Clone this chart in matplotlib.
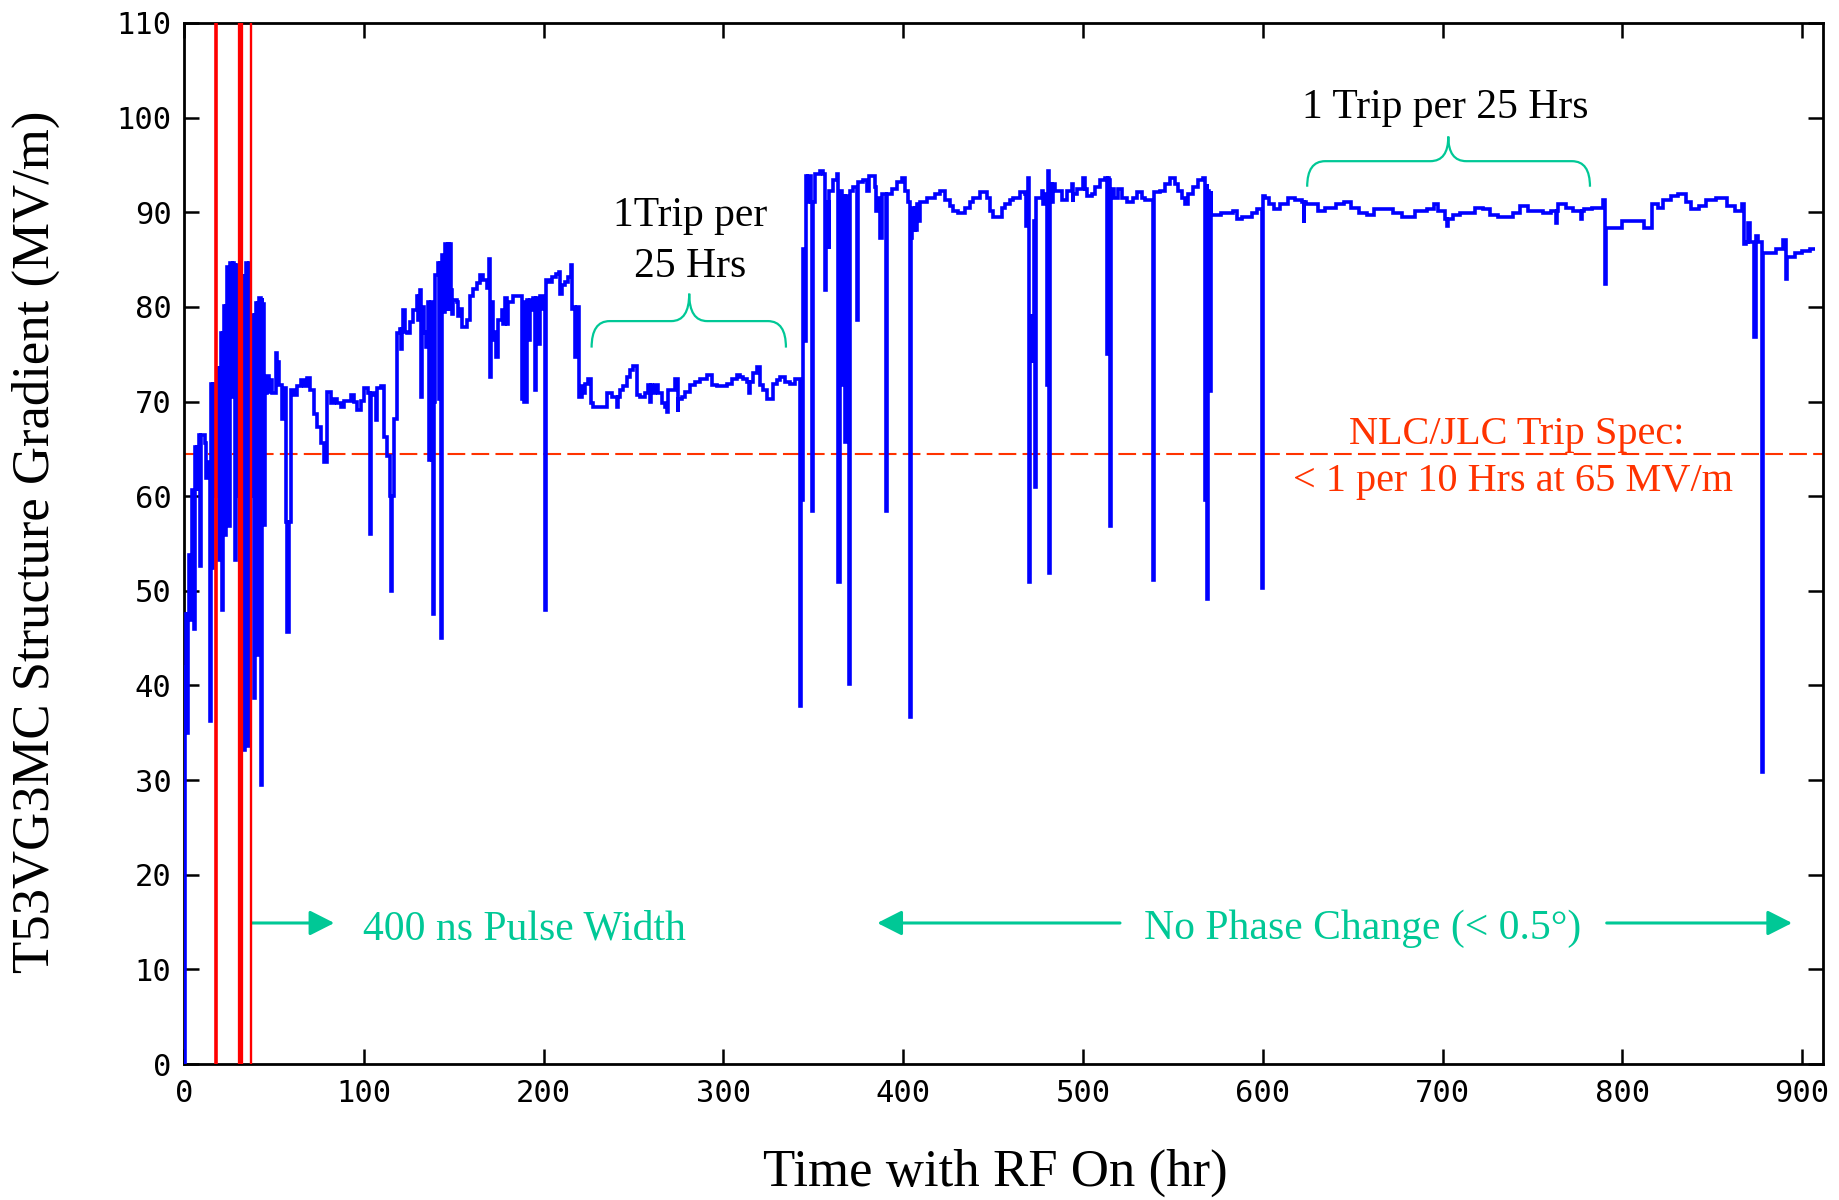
import matplotlib
matplotlib.use("Agg")
import matplotlib.pyplot as plt
from matplotlib.path import Path
from matplotlib.patches import PathPatch

# ── Data: (hours with RF on, gradient MV/m) ──
early = [
    (0.0, 0.0), (0.5, 42.0), (0.9, 47.6), (1.5, 35.0), (2.2, 47.6), (2.9, 53.8), (3.6, 46.9),
    (4.4, 53.8), (4.7, 60.7), (5.6, 46.0), (6.2, 65.2), (7.0, 60.5), (7.5, 65.2), (8.3, 66.5),
    (8.8, 52.6), (9.4, 66.5), (11.5, 65.6), (12.3, 61.9), (13.3, 63.6), (14.3, 36.2), (14.8, 63.6),
    (15.2, 71.9), (15.8, 52.4), (16.4, 71.9), (17.2, 60.0), (18.5, 73.5), (19.2, 53.3), (19.8, 73.5),
    (20.4, 77.2), (21.1, 48.0), (21.7, 77.2), (22.2, 80.1), (22.9, 55.9), (23.5, 80.1), (24.1, 84.2),
    (24.8, 56.8), (25.4, 84.2), (25.6, 84.6), (26.5, 70.5), (27.1, 84.6), (27.8, 84.4), (28.4, 53.3),
    (29.2, 84.4), (29.7, 60.0), (32.4, 83.3), (33.0, 33.2), (33.8, 83.3), (34.4, 84.6), (35.2, 33.6),
    (36.0, 84.6), (36.5, 60.0), (38.3, 79.1), (38.9, 38.7), (39.5, 79.1), (40.0, 80.4), (40.8, 43.2),
    (41.4, 80.4), (41.8, 80.9), (42.6, 29.5), (43.2, 80.9), (43.6, 80.3), (44.3, 57.0), (45.0, 70.9),
    (46.3, 72.7), (47.3, 71.0), (48.3, 72.3), (49.0, 70.9), (51.0, 75.1), (52.0, 74.2), (52.8, 71.7),
    (54.7, 68.2), (55.7, 71.4), (56.5, 57.3), (57.5, 45.7), (58.3, 57.3), (59.3, 71.2), (61.2, 70.7),
    (63.0, 71.6), (65.0, 72.3), (66.7, 71.6), (68.6, 72.5), (70.1, 71.2), (72.3, 68.7), (74.2, 67.3),
    (76.0, 65.6), (77.9, 63.6), (79.7, 71.0), (81.6, 69.8), (83.4, 70.3), (85.3, 69.8), (87.1, 69.4),
    (89.0, 70.1), (92.7, 70.7), (94.5, 70.0), (96.4, 69.1), (98.3, 70.1), (100.1, 71.4), (102.5, 70.9),
    (103.2, 56.0), (103.9, 70.9), (105.7, 70.7), (106.8, 68.0), (107.5, 71.4), (109.4, 71.6),
    (111.3, 66.3), (113.1, 64.2), (114.5, 60.0), (115.0, 50.0), (115.7, 60.0), (116.8, 68.2),
    (118.7, 77.2),
]

middle = [
    (120.1, 77.7), (120.8, 75.6), (121.2, 77.7), (122.0, 79.7), (122.8, 77.4), (123.8, 77.2),
    (125.7, 78.4), (127.5, 79.7), (129.4, 81.2), (130.1, 78.6), (130.6, 81.2), (131.2, 81.8),
    (131.6, 70.5), (132.1, 80.0), (133.5, 77.2), (134.0, 77.4), (134.8, 75.8), (135.8, 80.5),
    (136.5, 63.8), (137.2, 80.5), (138.2, 63.8), (138.7, 47.5), (139.3, 70.0), (139.6, 83.4),
    (141.4, 84.6), (141.9, 70.3), (142.4, 84.6), (142.8, 45.0), (143.5, 85.5), (144.5, 79.5),
    (144.9, 85.5), (145.3, 86.7), (146.2, 79.8), (146.8, 86.7), (147.5, 79.8), (148.0, 86.7),
    (148.3, 81.8), (149.0, 79.3), (149.8, 80.7), (151.6, 80.5), (152.4, 79.0), (153.5, 79.8),
    (154.4, 77.9), (157.2, 78.6), (159.0, 81.1), (160.9, 81.9), (162.7, 82.5), (164.6, 83.4),
    (166.4, 82.8), (168.3, 82.0), (169.8, 85.1), (170.3, 72.6), (171.0, 80.5), (171.8, 76.5),
    (172.9, 77.4), (173.5, 74.7), (174.8, 78.6), (176.6, 79.7), (177.5, 78.2), (178.5, 80.9),
    (179.5, 78.2), (180.3, 80.5), (183.2, 81.2), (187.8, 70.3), (188.5, 80.5), (189.2, 70.0),
    (190.6, 80.7), (191.5, 76.5), (192.4, 80.7), (193.5, 79.7), (194.3, 80.9), (195.0, 71.2),
    (195.6, 80.9), (196.1, 80.7), (197.0, 76.1), (198.0, 81.1), (199.8, 79.8), (200.6, 48.0),
    (201.2, 65.4), (201.6, 82.8), (203.0, 82.6), (204.8, 83.2), (206.7, 83.5), (208.5, 83.7),
    (209.3, 81.4), (210.0, 82.3), (211.8, 82.6), (213.7, 83.2), (215.5, 84.4), (216.0, 79.8),
    (216.5, 80.0), (217.5, 74.7), (218.4, 80.0), (219.5, 70.5), (221.2, 71.6), (222.0, 70.9),
    (223.0, 71.9), (224.9, 72.4), (226.5, 69.8), (227.6, 69.4), (235.0, 70.9), (237.9, 70.5),
    (240.7, 69.4), (241.6, 70.5), (242.5, 71.2), (244.4, 71.6), (246.2, 72.6), (248.1, 73.3),
    (249.9, 73.8), (252.2, 70.7), (253.6, 70.5), (256.4, 70.9), (258.3, 71.7), (259.2, 70.0),
    (259.7, 71.7), (260.1, 70.9), (262.0, 71.7), (263.8, 70.9), (265.7, 69.8), (267.5, 69.4),
    (268.5, 68.9), (269.4, 71.2), (273.1, 72.4), (274.5, 68.9), (275.0, 70.3), (276.8, 70.5),
    (278.7, 71.0), (281.5, 71.7), (284.2, 72.1), (287.0, 72.4), (290.7, 72.8), (293.5, 71.7),
    (296.3, 71.6), (301.8, 71.9), (304.6, 72.4), (307.4, 72.8), (309.3, 72.6), (311.1, 72.4),
    (313.0, 72.1), (314.5, 70.9), (315.0, 72.1), (316.7, 73.0), (318.5, 73.7), (320.4, 71.7),
    (322.2, 71.2), (324.1, 70.3), (327.8, 71.9), (329.7, 72.3), (331.5, 72.6), (334.3, 72.1),
    (337.1, 71.9), (339.9, 72.4), (342.5, 37.8), (343.3, 59.6), (344.2, 86.1), (345.4, 76.4),
]

late = [
    (345.9, 93.8), (346.6, 91.1), (347.3, 93.8), (348.6, 91.1), (349.4, 58.4), (350.0, 91.1),
    (351.0, 94.0), (353.8, 94.4), (355.6, 94.0), (356.6, 81.8), (357.2, 91.1), (358.5, 86.1),
    (359.0, 92.3), (361.2, 93.4), (363.0, 94.0), (364.0, 50.9), (364.7, 92.3), (365.8, 71.7),
    (366.5, 91.7), (367.5, 65.7), (368.2, 91.7), (369.6, 40.2), (370.3, 92.3), (372.3, 92.7),
    (374.5, 78.6), (375.0, 93.2), (377.9, 93.4), (379.7, 92.3), (381.2, 93.8), (384.4, 92.7),
    (385.0, 90.1), (386.2, 91.5), (387.0, 87.3), (388.0, 91.9), (390.4, 58.4), (391.0, 91.9),
    (393.6, 92.5), (396.4, 93.2), (399.2, 93.6), (401.0, 92.3), (402.9, 91.1), (404.0, 36.7),
    (404.6, 87.3), (405.0, 90.5), (405.6, 88.1), (406.5, 90.5), (407.2, 88.1), (407.8, 90.9),
    (408.7, 89.1), (409.6, 91.1), (413.0, 91.5), (417.7, 91.9), (420.5, 92.3), (423.3, 91.3),
    (426.1, 90.7), (427.9, 90.1), (430.7, 89.9), (434.4, 90.5), (437.2, 91.1), (439.0, 91.5),
    (442.7, 92.1), (446.4, 91.5), (448.3, 90.1), (450.2, 89.5), (454.8, 90.5), (456.6, 90.9),
    (459.4, 91.3), (461.3, 91.5), (465.0, 92.1), (467.8, 91.9), (468.5, 88.5), (469.6, 93.6),
    (470.2, 50.9), (470.7, 79.0), (471.2, 74.3), (471.7, 79.0), (472.2, 74.3), (473.0, 89.1),
    (473.4, 61.0), (474.0, 91.5), (477.0, 92.3), (477.8, 90.9), (479.0, 91.9), (479.8, 71.7),
    (480.5, 92.0), (480.8, 94.4), (481.3, 51.9), (481.9, 93.0), (482.5, 91.1), (483.5, 93.0),
    (484.5, 92.3), (487.2, 92.3), (488.5, 91.3), (490.9, 92.3), (493.7, 93.0), (494.3, 91.1),
    (494.6, 91.9), (496.5, 92.5), (500.2, 93.6), (501.2, 92.5), (502.1, 91.7), (504.9, 91.9),
    (506.7, 92.7), (509.5, 93.4), (512.3, 93.6), (513.6, 75.0), (514.0, 93.6), (514.5, 93.4),
    (515.0, 56.8), (515.7, 92.5), (517.5, 91.5), (519.7, 92.5), (521.5, 91.5), (524.3, 91.1),
    (528.0, 91.5), (529.9, 92.1), (532.7, 91.5), (534.5, 91.3), (539.1, 51.1), (539.7, 92.1),
    (542.9, 92.3), (545.6, 93.0), (548.4, 93.6), (551.2, 93.0), (553.0, 92.3), (554.9, 91.5),
    (556.7, 90.9), (558.6, 91.9), (561.4, 92.7), (564.2, 93.4), (567.0, 93.6), (568.0, 59.6),
    (568.8, 93.0), (569.0, 49.1), (569.7, 92.3), (570.3, 71.1), (571.0, 92.3), (571.4, 89.7),
    (577.0, 89.9), (583.6, 90.1), (585.5, 89.3), (588.3, 89.5), (593.8, 89.9), (596.6, 90.3),
    (599.4, 50.3), (600.0, 91.7), (601.3, 91.5), (603.3, 90.9), (606.5, 90.3), (609.6, 90.9),
    (613.8, 91.5), (618.0, 91.3), (622.1, 91.1), (622.7, 88.9), (623.2, 91.1), (624.2, 90.9),
    (630.5, 90.1), (634.7, 90.5), (641.0, 90.9), (645.1, 91.1), (649.3, 90.5), (653.5, 89.9),
    (657.7, 89.7), (661.9, 90.3), (672.3, 89.9), (677.5, 89.5), (684.8, 90.1), (691.1, 90.3),
    (695.3, 90.9), (697.4, 90.1), (701.5, 89.3), (702.5, 88.5), (703.0, 89.3), (705.7, 89.7),
    (709.9, 89.9), (718.3, 90.5), (722.4, 90.3), (726.6, 89.7), (730.8, 89.5), (739.2, 89.9),
    (743.3, 90.7), (747.5, 90.1), (755.9, 89.9), (760.1, 90.1), (763.2, 88.9), (763.6, 90.1),
    (764.2, 90.9), (768.4, 90.5), (772.6, 90.1), (777.0, 89.3), (777.4, 90.1), (778.9, 90.3),
    (783.0, 90.5), (789.3, 91.3), (790.5, 82.4), (791.0, 88.3), (799.8, 89.1), (812.3, 88.3),
    (816.5, 90.9), (819.6, 90.5), (822.7, 91.3), (826.9, 91.7), (831.1, 91.9), (835.3, 91.1),
    (838.4, 90.3), (842.6, 90.7), (846.8, 91.3), (852.0, 91.5), (858.3, 90.7), (862.5, 90.1),
    (866.6, 90.9), (867.5, 86.7), (868.7, 86.9), (870.0, 88.9), (870.8, 86.9), (873.5, 76.8),
    (874.1, 87.5), (875.2, 86.9), (877.5, 30.9), (878.2, 85.7), (885.4, 86.1), (889.6, 87.1),
    (890.9, 83.0), (891.3, 85.3), (895.9, 85.7), (900.0, 85.9), (904.2, 86.1), (907.3, 86.1),
]

# retuning / pulse-width change markers (hr) and trip spec level
red_lines = [17.8, 31.1, 37.3]
red_widths = [2.6, 3.8, 1.7]
spec_level = 64.5

BLUE = "#0000ff"
GREEN = "#00c896"
ORANGE = "#ff3300"
SERIF = "Liberation Serif"

hours = [p[0] for p in early + middle + late]
grad = [p[1] for p in early + middle + late]

fig = plt.figure(figsize=(18.39, 12), dpi=100)
ax = fig.add_axes([184 / 1839, 1 - 1064 / 1200, 1639 / 1839, 1041 / 1200])

ax.plot(hours, grad, drawstyle="steps-post", color=BLUE, lw=2.6,
        solid_joinstyle="miter", solid_capstyle="butt", zorder=3)
for x, w in zip(red_lines, red_widths):
    ax.axvline(x, color="#ff0000", lw=w, zorder=4)
ax.axhline(spec_level, color=ORANGE, lw=1.5, dashes=(8.5, 3), zorder=2)

ax.set_xlim(0, 911.6)
ax.set_ylim(0, 110)
ax.set_xticks(range(0, 901, 100))
ax.set_yticks(range(0, 111, 10))
for s in ax.spines.values():
    s.set_linewidth(2.0)
ax.tick_params(direction="in", top=True, right=True, length=11, width=1.8,
               labelsize=22)
ax.tick_params(axis="y", pad=9)
ax.tick_params(axis="x", pad=11)
for lab in ax.get_xticklabels() + ax.get_yticklabels():
    lab.set_family("DejaVu Sans Mono")

fig.text(995 / 1839, 1 - 1173 / 1200, "Time with RF On (hr)", family=SERIF,
         fontsize=38, ha="center", va="center")
fig.text(36 / 1839, 1 - 542 / 1200, "T53VG3MC Structure Gradient (MV/m)",
         family=SERIF, fontsize=38, ha="center", va="center", rotation=90)


# ── Curly braces ──
def brace(x0, x1, xm, ylow, ymid, ytip, r):
    verts = [(x0, ylow), (x0, ymid), (x0 + r, ymid),
             (xm - r, ymid),
             (xm, ymid), (xm, ytip),
             (xm, ymid), (xm + r, ymid),
             (x1 - r, ymid),
             (x1, ymid), (x1, ylow)]
    codes = [Path.MOVETO, Path.CURVE3, Path.CURVE3, Path.LINETO,
             Path.CURVE3, Path.CURVE3, Path.CURVE3, Path.CURVE3,
             Path.LINETO, Path.CURVE3, Path.CURVE3]
    ax.add_patch(PathPatch(Path(verts, codes), fill=False, edgecolor=GREEN,
                           lw=1.6, zorder=5))


brace(226.7, 334.8, 281.0, 75.7, 78.5, 81.4, 10)
brace(624.7, 782.0, 703.2, 92.7, 95.4, 98.0, 10)

ax.text(281.6, 88.5, "1Trip per", family=SERIF, fontsize=30,
        ha="center", va="baseline")
ax.text(281.6, 83.2, "25 Hrs", family=SERIF, fontsize=30,
        ha="center", va="baseline")
ax.text(701.6, 100.0, "1 Trip per 25 Hrs", family=SERIF, fontsize=30,
        ha="center", va="baseline")

ax.text(741.0, 65.5, "NLC/JLC Trip Spec:", family=SERIF, fontsize=29,
        color=ORANGE, ha="center", va="baseline")
ax.text(739.0, 60.5, "< 1 per 10 Hrs at 65 MV/m", family=SERIF, fontsize=29,
        color=ORANGE, ha="center", va="baseline")

# ── Green arrows and labels ──
arrow = dict(arrowstyle="-|>,head_length=0.75,head_width=0.38", color=GREEN,
             lw=2.2, mutation_scale=20, shrinkA=0, shrinkB=0)
ax.annotate("", xy=(83.6, 14.9), xytext=(37.6, 14.9), arrowprops=arrow)
ax.text(99.5, 13.2, "400 ns Pulse Width", family=SERIF, fontsize=30,
        color=GREEN, ha="left", va="baseline")
ax.annotate("", xy=(385.6, 14.9), xytext=(520.6, 14.9), arrowprops=arrow)
ax.annotate("", xy=(894.4, 14.9), xytext=(791.3, 14.9), arrowprops=arrow)
ax.text(655.7, 13.2, "No Phase Change (< 0.5°)", family=SERIF, fontsize=30,
        color=GREEN, ha="center", va="baseline")

fig.savefig("out.png", dpi=100)
